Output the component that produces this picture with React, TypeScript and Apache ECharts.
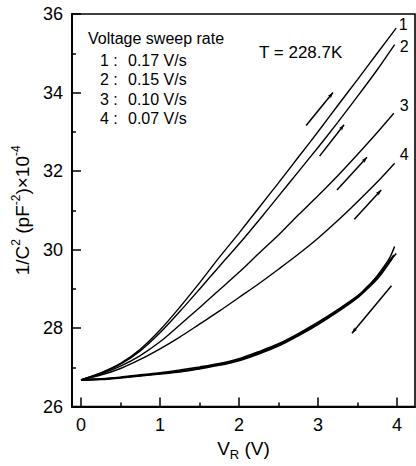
import React, { useEffect, useRef } from 'react';
import * as echarts from 'echarts';

// Up-sweep curves: [V_R, 1/C^2 x 1e-4]
const curve1: number[][] = [
  [0, 26.68], [0.25, 26.86], [0.5, 27.1], [0.75, 27.46], [1, 27.95], [1.25, 28.53],
  [1.5, 29.15], [1.75, 29.8], [2, 30.42], [2.25, 31.06], [2.5, 31.7], [2.75, 32.35],
  [3, 33.0], [3.25, 33.67], [3.5, 34.33], [3.75, 35.0], [3.99, 35.64],
];
const curve2: number[][] = [
  [0, 26.68], [0.25, 26.85], [0.5, 27.08], [0.75, 27.42], [1, 27.88], [1.25, 28.42],
  [1.5, 28.99], [1.75, 29.57], [2, 30.14], [2.25, 30.74], [2.5, 31.36], [2.75, 31.98],
  [3, 32.6], [3.25, 33.24], [3.5, 33.9], [3.75, 34.58], [3.97, 35.22],
];
const curve3: number[][] = [
  [0, 26.68], [0.25, 26.83], [0.5, 27.03], [0.75, 27.3], [1, 27.65], [1.25, 28.08],
  [1.5, 28.52], [1.75, 28.97], [2, 29.42], [2.25, 29.9], [2.5, 30.37], [2.75, 30.88],
  [3, 31.37], [3.25, 31.88], [3.5, 32.42], [3.75, 32.98], [3.96, 33.47],
];
const curve4: number[][] = [
  [0, 26.68], [0.25, 26.8], [0.5, 26.97], [0.75, 27.2], [1, 27.47], [1.25, 27.77],
  [1.5, 28.1], [1.75, 28.43], [2, 28.78], [2.25, 29.13], [2.5, 29.5], [2.75, 29.88],
  [3, 30.29], [3.25, 30.74], [3.5, 31.22], [3.75, 31.72], [3.97, 32.2],
];
// Down-sweep bundle
const rev1: number[][] = [
  [0, 26.68], [0.25, 26.7], [0.5, 26.74], [0.75, 26.79], [1, 26.84], [1.25, 26.9],
  [1.5, 26.98], [1.75, 27.07], [2, 27.19], [2.25, 27.37], [2.5, 27.57], [2.75, 27.83],
  [3, 28.12], [3.25, 28.44], [3.5, 28.8], [3.6, 29.0], [3.7, 29.21], [3.8, 29.47],
  [3.9, 29.76], [3.97, 30.08],
];
const rev2: number[][] = [
  [0, 26.68], [0.25, 26.7], [0.5, 26.74], [0.75, 26.79], [1, 26.84], [1.25, 26.9],
  [1.5, 26.98], [1.75, 27.07], [2, 27.19], [2.25, 27.37], [2.5, 27.57], [2.75, 27.83],
  [3, 28.12], [3.25, 28.44], [3.5, 28.8], [3.6, 28.98], [3.7, 29.18], [3.8, 29.42],
  [3.9, 29.68], [3.99, 29.9],
];
const rev3: number[][] = [
  [0, 26.68], [0.25, 26.69], [0.5, 26.73], [0.75, 26.78], [1, 26.83], [1.25, 26.88],
  [1.5, 26.96], [1.75, 27.05], [2, 27.17], [2.25, 27.34], [2.5, 27.54], [2.75, 27.8],
  [3, 28.09], [3.25, 28.41], [3.5, 28.77], [3.6, 28.95], [3.7, 29.14], [3.8, 29.37],
  [3.94, 29.77],
];
const rev4: number[][] = [
  [0, 26.68], [0.25, 26.71], [0.5, 26.75], [0.75, 26.81], [1, 26.86], [1.25, 26.93],
  [1.5, 27.01], [1.75, 27.1], [2, 27.22], [2.25, 27.4], [2.5, 27.6], [2.75, 27.86],
  [3, 28.15], [3.25, 28.47], [3.5, 28.82], [3.6, 29.0], [3.7, 29.2], [3.8, 29.43],
  [3.9, 29.7], [3.96, 29.86],
];

// Arrows: [x1, y1, x2, y2], head at the second point
const arrows: number[][] = [
  [2.85, 33.16, 3.19, 34.0],
  [3.02, 32.38, 3.33, 33.18],
  [3.24, 31.52, 3.62, 32.35],
  [3.46, 30.77, 3.8, 31.52],
  [3.93, 29.08, 3.43, 27.87],
];

// Curve number labels
const curveNames = ['1', '2', '3', '4'];
const curveLabelX = [4.08, 4.09, 4.09, 4.09];
const curveLabelY = [35.73, 35.18, 33.68, 32.43];

// Axes
const xTicks = [0, 1, 2, 3, 4];
const xMinorTicks = [0.5, 1.5, 2.5, 3.5];
const xMin = -0.114;
const xMax = 4.228;

// Legend text
const rateIds = ['1', '2', '3', '4'];
const rates = ['0.17', '0.15', '0.10', '0.07'];

const FONT = '"Liberation Sans", Arial, Helvetica, sans-serif';

export default function App() {
  const ref = useRef<HTMLDivElement>(null);
  useEffect(() => {
    const chart = echarts.init(ref.current!, null, { renderer: 'svg' });
    const mkLine = (data: number[][], width = 1.4) => ({
      type: 'line',
      data,
      showSymbol: false,
      symbol: 'none',
      smooth: 0.3,
      silent: true,
      lineStyle: { color: '#000', width },
      xAxisIndex: 0,
      yAxisIndex: 0,
    });
    const legendGraphics: any[] = [
      {
        type: 'text', x: 88, y: 38,
        style: { text: 'Voltage sweep rate', fontSize: 16, fontFamily: FONT, fill: '#000', verticalAlign: 'middle' },
      },
      {
        type: 'text', x: 259, y: 52,
        style: { text: 'T = 228.7K', fontSize: 17, fontFamily: FONT, fill: '#000', verticalAlign: 'middle' },
      },
    ];
    rateIds.forEach((id, i) => {
      const y = 60 + i * 19.5;
      legendGraphics.push({
        type: 'text', x: 100, y,
        style: { text: id + ' :', fontSize: 16, fontFamily: FONT, fill: '#000', verticalAlign: 'middle' },
      });
      legendGraphics.push({
        type: 'text', x: 128, y,
        style: { text: rates[i] + ' V/s', fontSize: 16, fontFamily: FONT, fill: '#000', verticalAlign: 'middle' },
      });
    });

    const option: any = {
      animation: false,
      backgroundColor: '#fff',
      textStyle: { fontFamily: FONT },
      grid: {
        left: 72, right: 1, top: 14, bottom: 52,
        show: true, borderColor: '#000', borderWidth: 1.6, backgroundColor: 'transparent',
      },
      xAxis: [
        {
          type: 'value', min: xMin, max: xMax, position: 'bottom',
          axisLine: { show: true, onZero: false, lineStyle: { color: '#000', width: 2 } },
          axisTick: { show: true, inside: true, length: 9, customValues: xTicks, lineStyle: { color: '#000', width: 1.5 } },
          axisLabel: { show: true, customValues: xTicks, color: '#000', fontSize: 18, margin: 9, fontFamily: FONT },
          splitLine: { show: false },
          name: '{b|V}{sub|R}{b| (V)}',
          nameLocation: 'middle',
          nameGap: 22,
          nameTextStyle: {
            color: '#000', fontSize: 19, fontFamily: FONT,
            rich: {
              b: { fontSize: 19, color: '#000', fontFamily: FONT, lineHeight: 26 },
              sub: { fontSize: 13, color: '#000', fontFamily: FONT, lineHeight: 14, verticalAlign: 'bottom' },
            },
          },
        },
        {
          type: 'value', min: xMin, max: xMax, position: 'bottom',
          axisLine: { show: false, onZero: false },
          axisTick: { show: true, inside: true, length: 4, customValues: xMinorTicks, lineStyle: { color: '#000', width: 1.5 } },
          axisLabel: { show: false },
          splitLine: { show: false },
        },
      ],
      yAxis: {
        type: 'value', min: 26, max: 36, interval: 2,
        axisLine: { show: true, onZero: false, lineStyle: { color: '#000', width: 2 } },
        axisTick: { show: true, inside: true, length: 9, lineStyle: { color: '#000', width: 1.5 } },
        minorTick: { show: true, splitNumber: 2, length: 4, lineStyle: { color: '#000', width: 1.5 } },
        axisLabel: { color: '#000', fontSize: 18, margin: 9, fontFamily: FONT },
        splitLine: { show: false },
        minorSplitLine: { show: false },
        name: '{b|1/C}{sup|2}{b| (pF}{sup|-2}{b|)×10}{sup|-4}',
        nameLocation: 'middle',
        nameRotate: 90,
        nameGap: 29,
        nameTextStyle: {
          color: '#000', fontSize: 19, fontFamily: FONT,
          rich: {
            b: { fontSize: 19, color: '#000', fontFamily: FONT, lineHeight: 26 },
            sup: { fontSize: 12, color: '#000', fontFamily: FONT, lineHeight: 12, verticalAlign: 'top' },
          },
        },
      },
      graphic: legendGraphics,
      series: [
        mkLine(curve1),
        mkLine(curve2),
        mkLine(curve3),
        mkLine(curve4),
        mkLine(rev1, 1.5),
        mkLine(rev2, 1.5),
        mkLine(rev3, 1.5),
        mkLine(rev4, 1.5),
        {
          type: 'line',
          data: [],
          silent: true,
          markLine: {
            silent: true,
            symbol: ['none', 'arrow'],
            symbolSize: [3, 6],
            label: { show: false },
            emphasis: { disabled: true },
            lineStyle: { color: '#000', width: 1.5, type: 'solid' },
            data: arrows.map((a) => [{ coord: [a[0], a[1]] }, { coord: [a[2], a[3]] }]),
          },
        },
      ],
    };
    chart.setOption(option);
    // Curve number labels placed through the axes' own scales
    const labelGraphics = curveNames.map((n, i) => {
      const p = chart.convertToPixel({ gridIndex: 0 }, [curveLabelX[i], curveLabelY[i]]) as number[];
      return {
        type: 'text', x: p[0], y: p[1],
        style: {
          text: n, fontSize: 16, fontFamily: FONT, fill: '#000',
          align: 'center', verticalAlign: 'middle',
        },
      };
    });
    chart.setOption({ graphic: [...legendGraphics, ...labelGraphics] });
    return () => chart.dispose();
  }, []);
  return (
    <div
      ref={ref}
      style={{ position: 'fixed', left: 0, top: 0, width: 416, height: 466, background: '#fff' }}
    />
  );
}
